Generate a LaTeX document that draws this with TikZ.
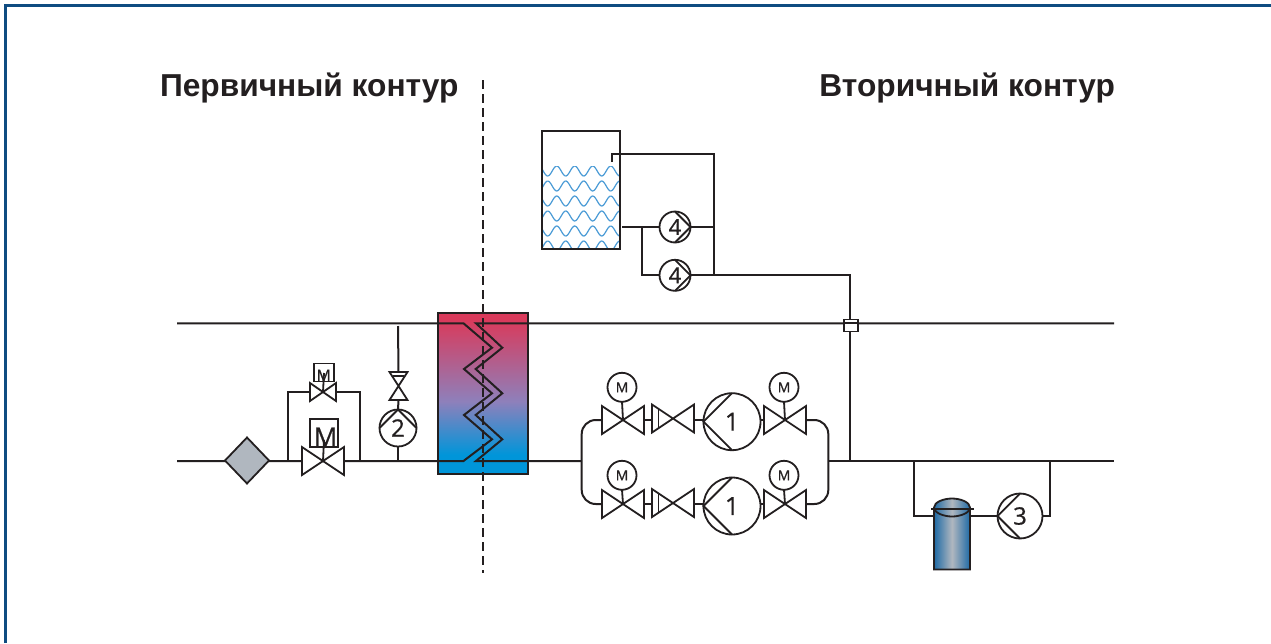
\documentclass[tikz,border=0pt]{standalone}
\usepackage{fontspec}
\usetikzlibrary{shapes.geometric}
\setmainfont{Liberation Sans}
\newfontfamily\symfont[RawFeature={embolden=0.7}]{Open Sans}
\definecolor{ink}{HTML}{231F20}
\definecolor{frameblue}{HTML}{0F4C81}
\definecolor{wave}{HTML}{4A9BD6}
\definecolor{steel}{HTML}{B0B7BF}
\definecolor{cylblue}{HTML}{1F6AA5}
\definecolor{HXb}{HTML}{0095D9}
\definecolor{HXm}{HTML}{8E80BB}
\definecolor{HXt}{HTML}{D93A5B}
\pgfdeclareverticalshading{hxshade}{100bp}{
 color(0bp)=(HXb); color(31bp)=(HXb); color(47.5bp)=(HXm); color(73bp)=(HXt); color(100bp)=(HXt)}
\tikzset{
 pipe/.style={draw=ink,line width=2pt,line join=miter},
 sym/.style={draw=ink,line width=1.8pt,fill=white},
 pump/.style={circle,draw=ink,line width=1.8pt,fill=white,inner sep=0pt,outer sep=0pt,text=ink},
 vbox/.style={rectangle,inner sep=0pt,outer sep=0pt},
 mbox/.style={rectangle,draw=ink,line width=1.8pt,fill=white,inner sep=0pt,outer sep=0pt,text=ink},
 mtext/.style={inner sep=0pt,outer sep=0pt,text=ink},
 title/.style={font=\fontsize{31.7}{36}\selectfont\bfseries,text=ink,inner sep=0pt,outer sep=0pt},
}
\newcommand\vlvH[5]{\node[vbox,minimum width=#4pt,minimum height=#5pt] (#1) at (#2,#3) {};
 \draw[sym] (#1.south west) -- (#1.north east) -- (#1.south east) -- (#1.north west) -- cycle;}
\newcommand\vlvV[5]{\node[vbox,minimum width=#4pt,minimum height=#5pt] (#1) at (#2,#3) {};
 \draw[sym] (#1.north west) -- (#1.south east) -- (#1.south west) -- (#1.north east) -- cycle;}
\newcommand\pumpR[6]{\node[pump,minimum size=#4pt,font=\symfont\fontsize{#5}{#5}\selectfont] (#1) at (#2,#3) {#6};
 \draw[sym,fill=none] (#1.north) -- (#1.east) -- (#1.south);}
\newcommand\pumpL[6]{\node[pump,minimum size=#4pt,font=\symfont\fontsize{#5}{#5}\selectfont] (#1) at (#2,#3) {#6};
 \draw[sym,fill=none] (#1.north) -- (#1.west) -- (#1.south);}
\begin{document}
\begin{tikzpicture}[x=1pt,y=-1pt]
\useasboundingbox (0,0) rectangle (1271,643);
\fill[white] (0,0) rectangle (1271,643);
% frame
\coordinate (fa) at (5,643); \coordinate (fb) at (5,5); \coordinate (fc) at (1271,5);
\draw[frameblue,line width=3pt] (fa) -- (fb) -- (fc);
% titles
\node[title,anchor=base west] (t1) at (160,96.5) {Первичный контур};
\node[title,anchor=base east] (t2) at (1115,96.5) {Вторичный контур};
% tank water
\begin{scope}
\clip (543,166) rectangle (619.5,248);
\foreach \k in {0,...,5}{
 \pgfmathsetmacro\yy{171+15*\k}
 \pgfmathsetmacro\ph{180*\k-64}
 \draw[wave,line width=1.2pt] plot[domain=540:622,samples=70,smooth] (\x,{\yy+5*sin(20*\x+\ph)});
}
\end{scope}
\node[vbox,draw=ink,line width=2pt,minimum width=78pt,minimum height=118pt] (tank) at (581,190) {};
% exchanger
\node[vbox,shading=hxshade,minimum width=90pt,minimum height=161pt] (hx) at (483,393.5) {};
% main pipes
\coordinate (L1) at (177,323.3); \coordinate (L2) at (177,461);
\coordinate (R1) at (1114,323.3); \coordinate (R2) at (1114,461);
\coordinate (zl1) at (463.5,323.3); \coordinate (zr1) at (476,323.3);
\coordinate (zl2) at (463.5,461); \coordinate (zr2) at (476,461);
\coordinate (stL) at (581.7,461); \coordinate (stR) at (828.3,461);
\draw[pipe] (L1) -- (zl1) -- (492,347.7) -- (464,369) -- (492,393.3) -- (464,415) -- (492,439.3) -- (zl2) -- (L2);
\draw[pipe] (R1) -- (zr1) -- (502.3,347.7) -- (475.7,369) -- (502.3,393.3) -- (475.7,415) -- (502.3,439.3) -- (zr2) -- (stL);
\draw[pipe] (stR) -- (R2);
\draw[ink,line width=2.2pt] (hx.south west) rectangle (hx.north east);
% dashed divider
\coordinate (d1) at (483,80); \coordinate (d2) at (483,573);
\draw[ink,line width=2pt,dash pattern=on 9pt off 5pt] (d1) -- (d2);
% strainer
\node[diamond,draw=ink,line width=1.8pt,fill=steel,inner sep=0pt,outer sep=0pt,minimum width=44pt,minimum height=46pt] (strainer) at (247,460.5) {};
% primary valves
\coordinate (byl) at (288,461); \coordinate (byr) at (360,461);
\coordinate (bytl) at (288,391.5); \coordinate (bytr) at (360,391.5);
\draw[pipe] (byl) -- (bytl) -- (bytr) -- (byr);
\vlvH{vm1}{323}{461}{42}{28}
\vlvH{vm2}{323}{392}{26}{18}
\node[mbox,minimum width=28pt,minimum height=28pt] (mb1) at (324,433) {};
\node[mbox,minimum width=20pt,minimum height=18pt] (mb2) at (324,372.5) {};
\node[mtext,font=\symfont\fontsize{26}{26}\selectfont] (mt1) at (325.5,437) {M};
\node[mtext,font=\symfont\fontsize{16}{16}\selectfont] (mt2) at (323.7,375.5) {M};
\coordinate (s1) at (324,440); \coordinate (s2) at (324,373);
\draw[sym] (s1) -- (vm1.center);
\draw[sym] (s2) -- (vm2.center);
% pump 2 branch
\coordinate (j2) at (398,461); \coordinate (t2top) at (398,326);
\vlvV{v2}{398.5}{386}{18}{28}
\node[pump,minimum size=37pt,font=\symfont\fontsize{24}{24}\selectfont] (p2) at (398,428) {2};
\draw[sym,fill=none] (p2.west) -- (p2.north) -- (p2.east);
\draw[pipe] (t2top) -- (v2.north);
\draw[sym] (393,376) -- (404,376);
\draw[pipe] (v2.south) -- (p2.north);
\draw[pipe] (p2.south) -- (j2);
% pump rows
\vlvH{a1}{623}{420}{42}{28}
\vlvH{a2}{673}{418.5}{42}{28}
\pumpL{a3}{732}{421.7}{57}{25}{1}
\vlvH{a4}{785}{420}{42}{28}
\vlvH{b1}{623}{504}{42}{28}
\vlvH{b2}{673}{503}{42}{28}
\pumpL{b3}{732}{506}{57}{25}{1}
\vlvH{b4}{785}{504}{42}{28}
\draw[sym] (658.5,409) -- (658.5,428);
\draw[sym] (658.5,493.5) -- (658.5,512.5);
\foreach \n/\x/\y in {ma/622/387.3,mb/784/387.3,mc/622/475.3,md/784/475.3}{
 \node[pump,minimum size=29pt,font=\symfont\fontsize{14}{14}\selectfont] (\n) at (\x,\y) {M};
}
\draw[sym] (ma.south) -- (a1.center);
\draw[sym] (mb.south) -- (a4.center);
\draw[sym] (mc.south) -- (b1.center);
\draw[sym] (md.south) -- (b4.center);
\coordinate (a1w) at (602,420); \coordinate (a2w) at (652,420); \coordinate (a1e) at (644,420); \coordinate (a2e) at (694,420);
\coordinate (a3w) at (703.5,420); \coordinate (a3e) at (760.5,420); \coordinate (a4w) at (764,420); \coordinate (a4e) at (806,420);
\coordinate (b1w) at (602,504); \coordinate (b2w) at (652,504); \coordinate (b1e) at (644,504); \coordinate (b2e) at (694,504);
\coordinate (b3w) at (703.5,504); \coordinate (b3e) at (760.5,504); \coordinate (b4w) at (764,504); \coordinate (b4e) at (806,504);
\draw[sym] (a1e) -- (a2w) (a2e) -- (a3w) (a3e) -- (a4w);
\draw[sym] (b1e) -- (b2w) (b2e) -- (b3w) (b3e) -- (b4w);
\coordinate (hL) at (581.7,420); \coordinate (hLb) at (581.7,504);
\coordinate (hR) at (828.3,420); \coordinate (hRb) at (828.3,504);
\draw[pipe,rounded corners=14pt] (a1w) -- (hL) -- (hLb) -- (b1w);
\draw[pipe,rounded corners=14pt] (a4e) -- (hR) -- (hRb) -- (b4e);
% expansion tank circuit
\pumpR{pa}{675}{227}{31}{22}{4}
\pumpR{pb}{675}{275.3}{31}{22}{4}
\coordinate (o1) at (612,162); \coordinate (o2) at (612,153.5); \coordinate (o3) at (714,153.5); \coordinate (o4) at (714,275.3);
\coordinate (c1) at (622,227); \coordinate (c2) at (642,227); \coordinate (c3) at (642,275.3);
\coordinate (c4) at (714,227); \coordinate (c5) at (850,275.3); \coordinate (c6) at (850,461);
\draw[pipe] (o1) -- (o2) -- (o3) -- (o4);
\draw[pipe] (c1) -- (pa.west);
\draw[pipe] (c2) -- (c3) -- (pb.west);
\draw[pipe] (pa.east) -- (c4);
\draw[pipe] (pb.east) -- (c5) -- (c6);
\node[vbox,draw=ink,line width=1.8pt,fill=white,minimum width=14pt,minimum height=12pt] (tee) at (851,325.5) {};
\draw[pipe] (tee.west |- R1) -- (tee.east |- R1);
% filter and pump 3
\coordinate (f1) at (914,461); \coordinate (f2) at (914,516); \coordinate (f3) at (934,516);
\coordinate (f4) at (970,516); \coordinate (f5) at (1050,461); \coordinate (f6) at (1050,516);
\draw[pipe] (f1) -- (f2) -- (f3);
\path[left color=cylblue,right color=cylblue,middle color=steel,draw=ink,line width=1.8pt]
 (934,507.5) -- (934,569.5) -- (970,569.5) -- (970,507.5)
 .. controls (970,502) and (960,498.5) .. (952,498.5) .. controls (944,498.5) and (934,502) .. (934,507.5) -- cycle;
\draw[ink,line width=1.8pt] (934,507.5) .. controls (934,513) and (944,516.5) .. (952,516.5) .. controls (960,516.5) and (970,513) .. (970,507.5);
\coordinate (cw) at (931.3,509); \coordinate (ce) at (974,509);
\draw[sym] (cw) -- (ce);
\pumpL{p3}{1020}{516}{45}{24}{3}
\draw[pipe] (f4) -- (p3.west);
\draw[pipe] (p3.east) -- (f6) -- (f5);
\end{tikzpicture}
\end{document}
